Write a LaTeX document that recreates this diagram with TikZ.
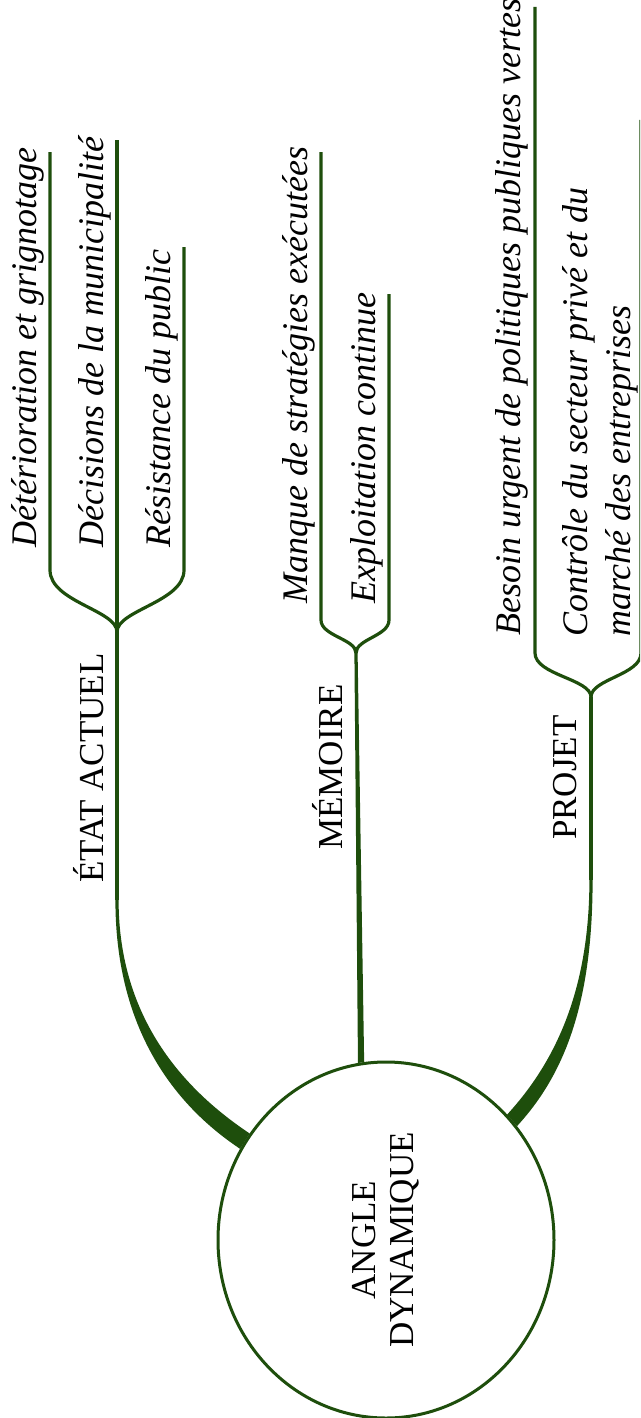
\documentclass[tikz,border=0pt]{standalone}
\usepackage{fontspec}
\setmainfont{Liberation Serif}
\usepackage{graphicx}
\usetikzlibrary{shapes.geometric}
\definecolor{leaf}{RGB}{30,78,12}

\tikzstyle{hub} = [
    ellipse,
    minimum width=336pt,
    minimum height=356pt,
    inner sep=0pt,
    draw=leaf,
    line width=3pt,
    fill=white
]
\tikzstyle{theme} = [
    rotate=90,
    anchor=base west,
    inner sep=0pt,
    font=\fontsize{35}{40}\selectfont
]
\tikzstyle{idea} = [
    rotate=90,
    anchor=base west,
    inner sep=0pt,
    align=left,
    font=\fontsize{36}{43}\selectfont\itshape
]
\tikzstyle{branch} = [draw=leaf, line width=3.2pt]
\tikzstyle{trunk} = [fill=leaf]

\begin{document}
\begin{tikzpicture}[x=1pt, y=-1pt]
\useasboundingbox (0,0) rectangle (640,1418);
\clip (0,0) rectangle (640,1418);

\node (root) [hub] at (386,1240)
{\rotatebox{90}{\parbox{230pt}{\centering\fontsize{35}{38}\selectfont
ANGLE\\DYNAMIQUE}}};

% forks and trunk joins
\coordinate (etatfork) at (117,632);
\coordinate (etatjoin) at (117,900);
\coordinate (memfork) at (356,653);
\coordinate (projfork) at (591,697);
\coordinate (projjoin) at (591,880);

% tips of the idea lines
\coordinate (deterbend) at (50,570);
\coordinate (detertip) at (50,152);
\coordinate (decistip) at (117,140);
\coordinate (resistbend) at (184,570);
\coordinate (resisttip) at (184,247);
\coordinate (manquebend) at (321,620);
\coordinate (manquetip) at (321,152);
\coordinate (exploitbend) at (389,620);
\coordinate (exploittip) at (389,294);
\coordinate (besoinbend) at (535,653);
\coordinate (besointip) at (535,7);
\coordinate (controlebend) at (641,653);
\coordinate (controletip) at (641,120);

\node (etat) [theme] at (103,883) {ÉTAT ACTUEL};
\node (memoire) [theme] at (342,850) {MÉMOIRE};
\node (projet) [theme] at (576,840) {PROJET};

\node (deter) [idea] at (36,548) {Détérioration et grignotage};
\node (decis) [idea] at (103,548) {Décisions de la municipalité};
\node (resist) [idea] at (170,548) {Résistance du public};
\node (manque) [idea] at (307,604) {Manque de stratégies exécutées};
\node (exploit) [idea] at (375,604) {Exploitation continue};
\node (besoin) [idea] at (520,636) {Besoin urgent de politiques publiques vertes};
\node (controle) [idea] at (630,637)
{Contrôle du secteur privé et du\\marché des entreprises};

% trunks
\draw [branch] (etatfork) -- (etatjoin);
\fill [trunk] ([xshift=-1.6]etatjoin) .. controls +(0,122) and +(-72,-48) .. (root.148)
    -- (root.142) .. controls +(-66,-44) and +(0,118) .. ([xshift=1.6]etatjoin) -- cycle;
\fill [trunk] ([xshift=-1.6]memfork) -- (root.99) -- (root.97)
    -- ([xshift=1.6]memfork) -- cycle;
\draw [branch] (projfork) -- (projjoin);
\fill [trunk] ([xshift=1.6]projjoin) .. controls +(0,122) and +(48,-52) .. (root.41)
    -- (root.46) .. controls +(43,-47) and +(0,118) .. ([xshift=-1.6]projjoin) -- cycle;

% forks
\draw [branch] (etatfork) .. controls +(0,-22) and +(0,32) .. (deterbend) -- (detertip);
\draw [branch] (etatfork) -- (decistip);
\draw [branch] (etatfork) .. controls +(0,-22) and +(0,32) .. (resistbend) -- (resisttip);
\draw [branch] (memfork) .. controls +(0,-14) and +(0,16) .. (manquebend) -- (manquetip);
\draw [branch] (memfork) .. controls +(0,-14) and +(0,16) .. (exploitbend) -- (exploittip);
\draw [branch] (projfork) .. controls +(0,-18) and +(0,22) .. (besoinbend) -- (besointip);
\draw [branch] (projfork) .. controls +(0,-18) and +(0,22) .. (controlebend) -- (controletip);

\end{tikzpicture}
\end{document}
